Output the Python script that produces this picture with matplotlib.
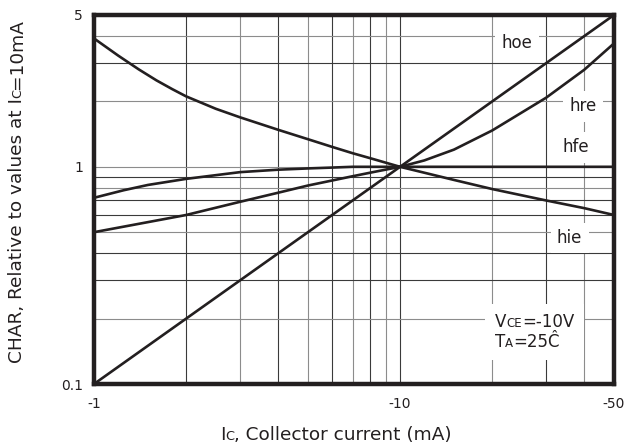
import matplotlib
matplotlib.use('Agg')
import matplotlib.pyplot as plt
from matplotlib.ticker import NullLocator
from matplotlib.offsetbox import TextArea, HPacker, VPacker, AnnotationBbox

# values (Ic in mA, values relative to Ic=10mA)
ic_hie = [1, 1.2, 1.4, 1.6, 1.8, 2, 2.5, 3, 4, 5, 6, 7, 8, 10, 15, 20, 30, 40, 50]
hie = [3.9, 3.25, 2.81, 2.5, 2.28, 2.11, 1.85, 1.69, 1.48, 1.34, 1.235, 1.155, 1.095, 1.0,
       0.87, 0.79, 0.70, 0.645, 0.60]

ic_hfe = [1, 1.25, 1.5, 2, 3, 4, 5, 6, 7, 10, 50]
hfe = [0.72, 0.78, 0.825, 0.88, 0.945, 0.97, 0.983, 0.992, 1.0, 1.0, 1.0]

ic_hre = [1, 2, 3, 4, 5, 6, 7, 8, 10, 12, 15, 20, 30, 40, 50]
hre = [0.5, 0.6, 0.69, 0.76, 0.82, 0.865, 0.905, 0.94, 1.0, 1.07, 1.2, 1.47, 2.08, 2.8, 3.7]

ic_hoe = [1, 10, 50]
hoe = [0.1, 1.0, 5.0]

x_ticks = [1, 10, 50]
x_tick_labels = ['-1', '-10', '-50']
y_ticks = [0.1, 1, 5]
y_tick_labels = ['0.1', '1', '5']

x_grid = [2, 3, 4, 5, 6, 7, 8, 9, 10, 20, 30, 40]
y_grid = [0.2, 0.3, 0.4, 0.5, 0.6, 0.7, 0.8, 0.9, 1, 2, 3, 4]

INK = '#231f20'
DARK = '#3a3a3a'
GRAY = '#8c8c8c'

x_grid_colors = [DARK, GRAY] * 6
y_grid_colors = [GRAY, DARK, DARK, GRAY, DARK, DARK, GRAY, DARK, GRAY, GRAY, DARK, GRAY]


def chain_text(fig, ax, parts, x0, y0, rotation=0):
    # draw text pieces of different sizes one after another on a shared baseline
    first = fig.text(x0, y0, parts[0][0], fontsize=parts[0][1], color=INK,
                     ha='left', va='baseline', rotation=rotation, rotation_mode='anchor')
    prev = first
    for s, fs in parts[1:]:
        if rotation == 0:
            coords = (prev, 'figure fraction')
            xy = (1, y0)
        else:
            coords = ('figure fraction', prev)
            xy = (x0, 1)
        prev = ax.annotate(s, xy=xy, xycoords=coords, fontsize=fs, color=INK,
                           ha='left', va='baseline', rotation=rotation,
                           rotation_mode='anchor', annotation_clip=False)
    return first


fig = plt.figure(figsize=(6.25, 4.44), dpi=100)
ax = fig.add_axes([94 / 625, 1 - 384 / 444, 520 / 625, 369 / 444])

ax.set_xscale('log')
ax.set_yscale('log')
ax.set_xlim(1, 50)
ax.set_ylim(0.1, 5)

for v, c in zip(x_grid, x_grid_colors):
    ax.axvline(v, color=c, lw=0.8, zorder=1)
for v, c in zip(y_grid, y_grid_colors):
    ax.axhline(v, color=c, lw=0.8, zorder=1)

for xs, ys in [(ic_hie, hie), (ic_hfe, hfe), (ic_hre, hre), (ic_hoe, hoe)]:
    ax.plot(xs, ys, color=INK, lw=1.9, zorder=4, solid_capstyle='butt', solid_joinstyle='round')

ax.set_xticks(x_ticks, x_tick_labels)
ax.set_yticks(y_ticks, y_tick_labels)
ax.xaxis.set_minor_locator(NullLocator())
ax.yaxis.set_minor_locator(NullLocator())
ax.tick_params(axis='both', length=0, labelsize=10, colors=INK)
ax.tick_params(axis='x', pad=9)
ax.tick_params(axis='y', pad=8)

for sp in ax.spines.values():
    sp.set_linewidth(3.2)
    sp.set_color(INK)
    sp.set_zorder(5)

box = dict(boxstyle='square,pad=0.38', fc='white', ec='none')
ax.text(24.1, 3.71, 'hoe', ha='center', va='center', fontsize=12, color=INK, bbox=box, zorder=3)
ax.text(39.5, 1.90, 'hre', ha='center', va='center', fontsize=12, color=INK, bbox=box, zorder=3)
ax.text(37.6, 1.23, 'hfe', ha='center', va='center', fontsize=12, color=INK, bbox=box, zorder=3)
ax.text(35.8, 0.47, 'hie', ha='center', va='center', fontsize=12, color=INK, bbox=box, zorder=3)

# test condition block
big = dict(size=12, color=INK)
small = dict(size=8.5, color=INK)
row1 = HPacker(children=[TextArea('V', textprops=big), TextArea('CE', textprops=small),
                         TextArea('=-10V', textprops=big)], align='baseline', pad=0, sep=0)
row2 = HPacker(children=[TextArea('T', textprops=big), TextArea('A', textprops=small),
                         TextArea('=25Ĉ', textprops=big)], align='baseline', pad=0, sep=0)
block = VPacker(children=[row1, row2], align='left', pad=0, sep=1)
ab = AnnotationBbox(block, (20.4, 0.1735), xycoords='data', box_alignment=(0, 0.5),
                    pad=0.7, bboxprops=dict(fc='white', ec='none'), zorder=3)
ax.add_artist(ab)

# axis labels with small-cap subscripts on the baseline
chain_text(fig, ax, [('I', 13.3), ('C', 9.3), (', Collector current (mA)', 13.3)],
           220 / 625, 1 - 440 / 444)
chain_text(fig, ax, [('CHAR, Relative to values at I', 13.3), ('C', 9.3), ('=10mA', 13.3)],
           21.5 / 625, 1 - 363 / 444, rotation=90)

fig.savefig('out.png', dpi=100)
